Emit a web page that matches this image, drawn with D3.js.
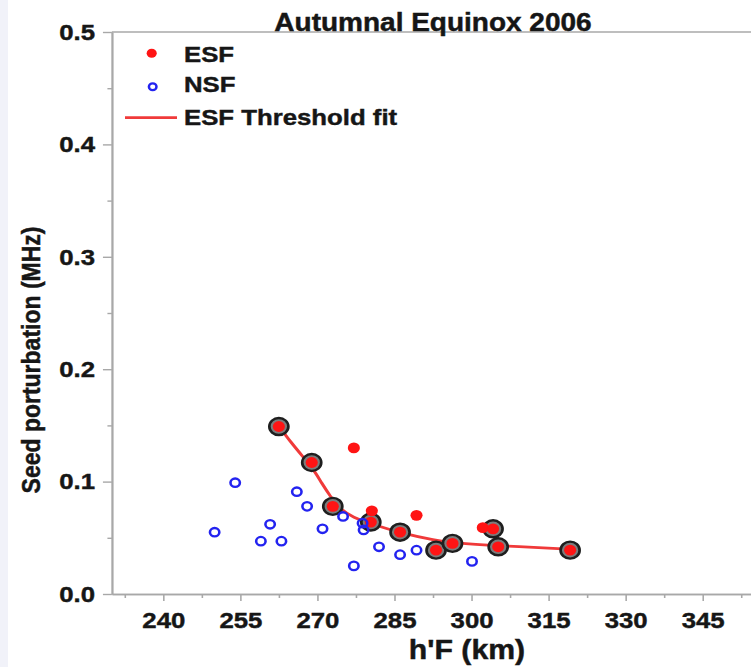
<!DOCTYPE html>
<html>
<head>
<meta charset="utf-8">
<script src="https://cdn.jsdelivr.net/npm/d3@7"></script>
<style>
  body { margin: 0; background: #fff; overflow: hidden; }
  text { font-family: "Liberation Sans", Arial, sans-serif; font-weight: bold; fill: #161616;
         stroke: #161616; stroke-width: 0.45px; }
</style>
</head>
<body>
<div id="chart"></div>
<script>
// ESF (spread F) events, h'F in km and seed perturbation in MHz
var esfKm  = [262.5, 277.1, 268.9, 273.0, 280.6, 289.3, 280.4, 286.1, 302.2, 304.2, 293.1, 296.3, 305.2, 319.2];
var esfMHz = [0.149, 0.130, 0.117, 0.078, 0.074, 0.070, 0.064, 0.055, 0.059, 0.058, 0.039, 0.045, 0.042, 0.039];
var esfRinged = [1, 0, 1, 1, 0, 0, 1, 1, 0, 1, 1, 1, 1, 1];

// NSF (no spread F) events
var nsfKm  = [250.0, 254.0, 259.0, 260.8, 263.0, 266.0, 268.0, 271.0, 275.0, 278.8, 279.0, 277.1, 282.0, 286.1, 289.3, 300.1];
var nsfMHz = [0.055, 0.099, 0.047, 0.062, 0.047, 0.091, 0.078, 0.058, 0.069, 0.063, 0.057, 0.025, 0.042, 0.035, 0.039, 0.029];

// threshold fit
var fitKm  = [262.5, 265.0, 267.4, 269.2, 270.8, 272.5, 274.4, 277.0, 280.4, 286.1, 293.1, 296.3, 304.9, 319.2];
var fitMHz = [0.1495, 0.134, 0.121, 0.111, 0.099, 0.087, 0.0755, 0.068, 0.0625, 0.0545, 0.0476, 0.0456, 0.0430, 0.0398];

var yTicks = [0.0, 0.1, 0.2, 0.3, 0.4, 0.5];
var yMinor = [0.05, 0.15, 0.25, 0.35, 0.45];
var xTicks = [240, 255, 270, 285, 300, 315, 330, 345, 360];
var xMinor = [232.5, 247.5, 262.5, 277.5, 292.5, 307.5, 322.5, 337.5, 352.5];

var legendItems = ["ESF", "NSF", "ESF Threshold fit"];

// the picture is stretched sideways, so draw in a narrower box and stretch it
var S = 1.12;
var W = 751 / S, H = 667;

var svg = d3.select("#chart").append("svg")
    .attr("width", 751)
    .attr("height", H)
    .attr("viewBox", "0 0 " + W + " " + H)
    .attr("preserveAspectRatio", "none");

svg.append("rect").attr("width", W).attr("height", H).attr("fill", "#fff");
svg.append("rect").attr("width", 8 / S).attr("height", H).attr("fill", "#f1f2f9");

var x = d3.scaleLinear().domain([230, 360]).range([111.9 / S, 779.7 / S]);
var y = d3.scaleLinear().domain([0, 0.5]).range([594, 32]);

var axisColor = "#a8a8a8";

function styleAxis(g) {
  g.selectAll(".domain").attr("stroke", axisColor).attr("stroke-width", 1.6);
  g.selectAll(".tick line").attr("stroke", axisColor).attr("stroke-width", 1.4);
  g.selectAll(".tick text").attr("fill", "#161616").style("font-size", "23px");
}

// minor ticks
svg.append("g")
    .attr("transform", "translate(" + x(230) + ",0)")
    .call(d3.axisLeft(y).tickValues(yMinor).tickSize(4).tickSizeOuter(0).tickFormat(""))
    .call(styleAxis);
svg.append("g")
    .attr("transform", "translate(0," + y(0) + ")")
    .call(d3.axisBottom(x).tickValues(xMinor).tickSize(4).tickSizeOuter(0).tickFormat(""))
    .call(styleAxis);

// main axes
svg.append("g")
    .attr("transform", "translate(" + x(230) + ",0)")
    .call(d3.axisLeft(y).tickValues(yTicks).tickSize(8).tickPadding(7).tickSizeOuter(0).tickFormat(d3.format(".1f")))
    .call(styleAxis);
svg.append("g")
    .attr("transform", "translate(0," + y(0) + ")")
    .call(d3.axisBottom(x).tickValues(xTicks).tickSize(7).tickPadding(11).tickSizeOuter(0))
    .call(styleAxis);

// top frame line
svg.append("line")
    .attr("x1", x(230)).attr("x2", x(360))
    .attr("y1", y(0.5)).attr("y2", y(0.5))
    .attr("stroke", axisColor).attr("stroke-width", 1.6);

// title and axis labels
svg.append("text")
    .attr("x", 433 / S).attr("y", 31)
    .attr("text-anchor", "middle")
    .style("font-size", "25px")
    .text("Autumnal Equinox 2006");

svg.append("text")
    .attr("transform", "translate(" + (40 / S) + ",360) rotate(-90)")
    .attr("text-anchor", "middle")
    .style("font-size", "23px")
    .text("Seed porturbation (MHz)");

svg.append("text")
    .attr("x", 467 / S).attr("y", 659)
    .attr("text-anchor", "middle")
    .style("font-size", "27px")
    .text("h'F (km)");

// fit curve
var fitData = fitKm.map(function(k, i) { return [k, fitMHz[i]]; });
var line = d3.line()
    .x(function(d) { return x(d[0]); })
    .y(function(d) { return y(d[1]); })
    .curve(d3.curveBasis);
svg.append("path")
    .datum(fitData)
    .attr("d", line)
    .attr("fill", "none")
    .attr("stroke", "#f03a3a")
    .attr("stroke-width", 2.8);

var esf = esfKm.map(function(k, i) { return {k: k, v: esfMHz[i], ring: esfRinged[i]}; });
var nsf = nsfKm.map(function(k, i) { return {k: k, v: nsfMHz[i]}; });

// rings round the points used for the fit
svg.append("g").selectAll("circle")
    .data(esf.filter(function(d) { return d.ring; }))
  .enter().append("circle")
    .attr("cx", function(d) { return x(d.k); })
    .attr("cy", function(d) { return y(d.v); })
    .attr("r", 8.5)
    .attr("fill", "#7c7c7c")
    .attr("stroke", "#1e1e1e")
    .attr("stroke-width", 2.4);

svg.append("g").selectAll("circle")
    .data(esf)
  .enter().append("circle")
    .attr("cx", function(d) { return x(d.k); })
    .attr("cy", function(d) { return y(d.v); })
    .attr("r", 5.4)
    .attr("fill", "#ff1414");

svg.append("g").selectAll("circle")
    .data(nsf)
  .enter().append("circle")
    .attr("cx", function(d) { return x(d.k); })
    .attr("cy", function(d) { return y(d.v); })
    .attr("r", 4.2)
    .attr("fill", "none")
    .attr("stroke", "#2323f0")
    .attr("stroke-width", 2.3);

// legend
var lg = svg.append("g");
lg.append("circle").attr("cx", 151.7 / S).attr("cy", 53.3).attr("r", 4.5).attr("fill", "#ff1414");
lg.append("circle").attr("cx", 152.7 / S).attr("cy", 86.7).attr("r", 3.4)
    .attr("fill", "none").attr("stroke", "#2323f0").attr("stroke-width", 2.2);
lg.append("line").attr("x1", 125 / S).attr("x2", 177 / S).attr("y1", 117.7).attr("y2", 117.7)
    .attr("stroke", "#f03a3a").attr("stroke-width", 2.8);
lg.selectAll("text")
    .data(legendItems)
  .enter().append("text")
    .attr("x", 184 / S)
    .attr("y", function(d, i) { return [62, 92, 125][i]; })
    .style("font-size", "23px")
    .text(function(d) { return d; });
</script>
</body>
</html>
